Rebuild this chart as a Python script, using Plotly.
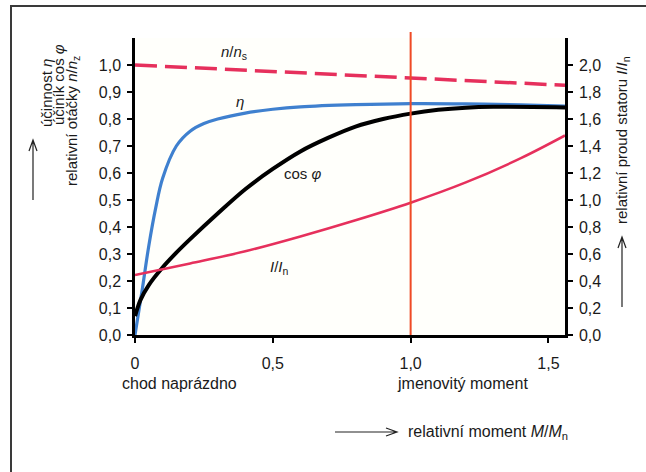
import plotly.graph_objects as go

# ---------------- data ----------------
# relative moment M/Mn
ETA_X = [0, 0.025, 0.05, 0.075, 0.1, 0.15, 0.2, 0.25, 0.3, 0.4, 0.5, 0.6, 0.8, 1.0, 1.2, 1.4, 1.56]
ETA_Y = [0, 0.16, 0.33, 0.47, 0.58, 0.70, 0.755, 0.783, 0.80, 0.822, 0.836, 0.845, 0.853, 0.857, 0.856, 0.852, 0.848]

COS_X = [0, 0.02, 0.05, 0.1, 0.15, 0.2, 0.3, 0.4, 0.5, 0.6, 0.7, 0.8, 0.9, 1.0, 1.1, 1.2, 1.3, 1.56]
COS_Y = [0.07, 0.13, 0.185, 0.25, 0.305, 0.355, 0.45, 0.54, 0.615, 0.68, 0.73, 0.772, 0.80, 0.82, 0.834, 0.842, 0.845, 0.843]

SPEED_X = [0, 0.5, 1.0, 1.56]
SPEED_Y = [1.0, 0.975, 0.95, 0.925]

CURRENT_X = [0, 0.2, 0.4, 0.6, 0.8, 1.0, 1.2, 1.4, 1.56]
CURRENT_Y = [0.444, 0.53, 0.62, 0.73, 0.85, 0.98, 1.13, 1.31, 1.478]  # right axis I/In

RATED_MOMENT = 1.0

X_TICKS = [0, 0.5, 1.0, 1.5]
X_TICK_LABELS = ["0", "0,5", "1,0", "1,5"]
Y_LEFT_TICKS = [0.0, 0.1, 0.2, 0.3, 0.4, 0.5, 0.6, 0.7, 0.8, 0.9, 1.0]
Y_RIGHT_TICKS = [0.0, 0.2, 0.4, 0.6, 0.8, 1.0, 1.2, 1.4, 1.6, 1.8, 2.0]

# ---------------- layout geometry ----------------
W, H = 646, 472
ML, MR, MT, MB = 135, 81, 38, 137
PW, PH = W - ML - MR, H - MT - MB


def px(x, y):
    """pixel position -> paper coordinates"""
    return (x - ML) / PW, (H - MB - y) / PH


FONT = "Liberation Sans, Arial, sans-serif"
TXT = "#1a1a1a"
BLUE = "#3f80cf"
PINK = "#e6305c"
ORANGE = "#ef4a25"

fig = go.Figure()

fig.add_trace(go.Scatter(x=SPEED_X, y=SPEED_Y, mode="lines",
                         line=dict(color=PINK, width=3.5, dash="22px,8px"),
                         hoverinfo="skip"))
fig.add_trace(go.Scatter(x=ETA_X, y=ETA_Y, mode="lines", line_shape="spline",
                         line=dict(color=BLUE, width=3.2), hoverinfo="skip"))
fig.add_trace(go.Scatter(x=COS_X, y=COS_Y, mode="lines", line_shape="spline",
                         line=dict(color="black", width=4), hoverinfo="skip"))
fig.add_trace(go.Scatter(x=CURRENT_X, y=CURRENT_Y, mode="lines", line_shape="spline",
                         yaxis="y2", line=dict(color=PINK, width=2.5), hoverinfo="skip"))

axis_common = dict(showgrid=False, zeroline=False, linecolor="black", linewidth=2.5,
                   tickcolor="black", tickwidth=2, ticklen=5,
                   tickfont=dict(family=FONT, size=16, color=TXT))
tick_only = {k: v for k, v in axis_common.items() if k != "linewidth"}

fig.update_layout(
    width=W, height=H,
    margin=dict(l=ML, r=MR, t=MT, b=MB),
    paper_bgcolor="white", plot_bgcolor="#fffffb",
    showlegend=False, separators=",.",
    font=dict(family=FONT, size=16, color=TXT),
    xaxis=dict(range=[0, 1.56], showline=True, ticks="outside",
               tickvals=X_TICKS, ticktext=X_TICK_LABELS, ticklabelstandoff=7,
               **axis_common),
    xaxis2=dict(overlaying="x", matches="x", anchor="y", side="bottom",
                showline=False, ticks="inside", tickvals=X_TICKS,
                showticklabels=False, **tick_only),
    yaxis=dict(range=[0, 1.1], showline=True, ticks="outside",
               tickvals=Y_LEFT_TICKS, tickformat=".1f", ticklabelstandoff=3,
               **axis_common),
    yaxis3=dict(overlaying="y", matches="y", anchor="x", side="left",
                showline=False, ticks="inside", tickvals=Y_LEFT_TICKS,
                showticklabels=False, **tick_only),
    yaxis2=dict(overlaying="y", side="right", anchor="x", range=[0, 2.2],
                showline=True, ticks="outside", tickvals=Y_RIGHT_TICKS,
                tickformat=".1f", ticklabelstandoff=3, **axis_common),
    yaxis4=dict(overlaying="y", side="right", anchor="x", range=[0, 2.2],
                showline=False, ticks="inside", tickvals=Y_RIGHT_TICKS,
                showticklabels=False, **tick_only),
)

# rated-moment vertical line
fig.add_shape(type="line", xref="x", yref="paper", x0=RATED_MOMENT, x1=RATED_MOMENT,
              y0=0, y1=px(0, 32)[1], line=dict(color=ORANGE, width=2))

# frame lines of the picture (top and left visible)
bx0, by0 = px(11, 6)
bx1, by1 = px(W + 5, H + 5)
fig.add_shape(type="path", xref="paper", yref="paper",
              path=f"M{bx1},{by0} L{bx0},{by0} L{bx0},{by1}",
              line=dict(color="#3a3a3a", width=2))


def arrow(x0, y0, x1, y1, ux, uy, nx, ny):
    # tail (x0,y0) -> head (x1,y1); u = back direction of head, n = normal
    a = px(x1 + 11 * ux + 4 * nx, y1 + 11 * uy + 4 * ny)
    b = px(x1 + 11 * ux - 4 * nx, y1 + 11 * uy - 4 * ny)
    t = px(x0, y0)
    h = px(x1, y1)
    path = (f"M{t[0]},{t[1]} L{h[0]},{h[1]} "
            f"M{a[0]},{a[1]} L{h[0]},{h[1]} L{b[0]},{b[1]}")
    fig.add_shape(type="path", xref="paper", yref="paper", path=path,
                  line=dict(color="#222", width=1.2))


arrow(33, 200, 33, 140, 0, 1, 1, 0)
arrow(622, 307, 622, 237, 0, 1, 1, 0)
arrow(335, 432, 397, 432, -1, 0, 0, 1)


def ptext(text, x, y, xanchor="center", yanchor="middle", angle=0, size=16):
    pxx, pyy = px(x, y)
    fig.add_annotation(text=text, xref="paper", yref="paper", x=pxx, y=pyy,
                       xanchor=xanchor, yanchor=yanchor, textangle=angle,
                       showarrow=False, font=dict(family=FONT, size=size, color=TXT))


# left axis title (three rotated lines)
ptext("účinnost <i>η</i>", 46, 93, angle=-90, size=15)
ptext("účiník cos <i>φ</i>", 59, 85, angle=-90, size=15)
ptext("relativní otáčky <i>n</i>/<i>n</i><sub>z</sub>", 73, 121, angle=-90, size=15)
# right axis title
ptext("relativní proud statoru <i>I</i>/<i>I</i><sub>n</sub>", 622, 140, angle=-90, size=15)
# x axis texts
ptext("chod naprázdno", 120, 383, xanchor="left")
ptext("jmenovitý moment", 395, 383, xanchor="left")
ptext("relativní moment <i>M</i>/<i>M</i><sub>n</sub>", 406, 432, xanchor="left")


# curve labels (data coordinates)
def dtext(text, x, y, yref="y"):
    fig.add_annotation(text=text, x=x, y=y, xref="x", yref=yref, showarrow=False,
                       font=dict(family=FONT, size=15, color=TXT))


dtext("<i>n</i>/<i>n</i><sub>s</sub>", 0.36, 1.045)
dtext("<i>η</i>", 0.38, 0.865)
dtext("cos <i>φ</i>", 0.61, 0.60)
dtext("<i>I</i>/<i>I</i><sub>n</sub>", 0.525, 0.25)

fig.write_html("out.html", config={"displayModeBar": False},
               post_script="document.body.style.margin='0';document.body.style.padding='0';")
